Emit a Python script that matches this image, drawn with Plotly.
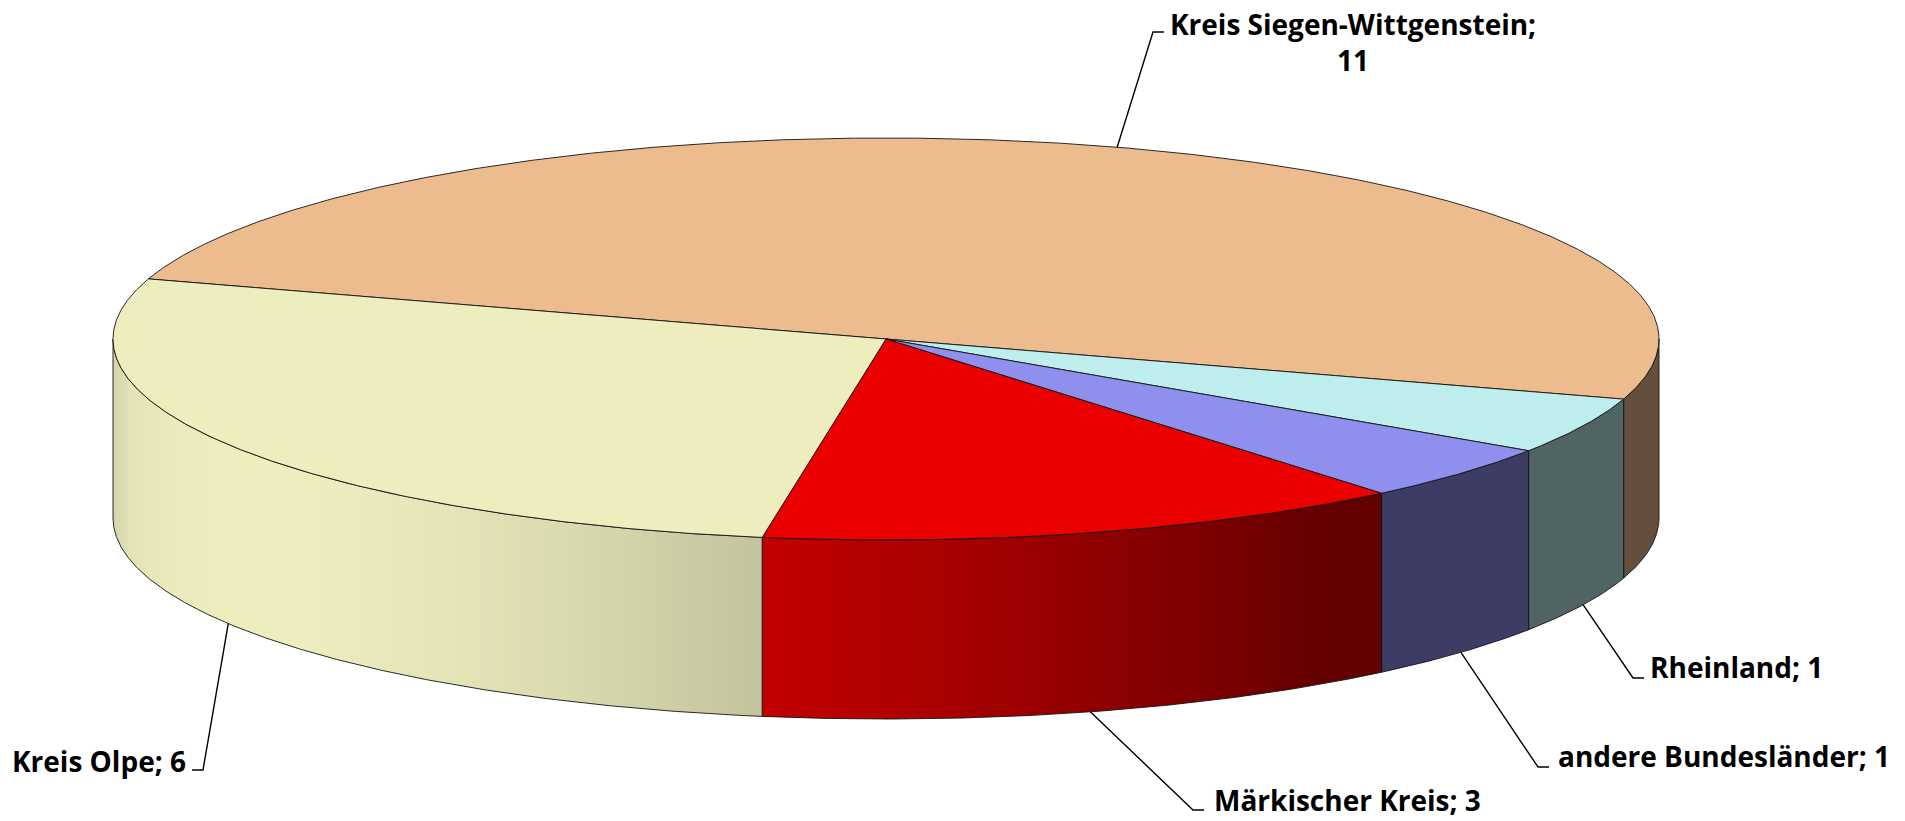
import numpy as np
import plotly.graph_objects as go

# ---------------- data ----------------
categories = ["Kreis Siegen-Wittgenstein", "Rheinland", "andere Bundesländer",
              "Märkischer Kreis", "Kreis Olpe"]
values = [11, 1, 1, 3, 6]
top_colors = [(236, 188, 143), (190, 237, 237), (143, 143, 238), (235, 0, 0), (237, 237, 190)]

# ---------------- layout / geometry (pixels) ----------------
W, H = 1905, 821
CX, CY = 886, 339          # centre of the top ellipse
RX, RY = 773, 201          # semi axes
DEPTH = 179                # thickness of the pie
START_DEG = 162.6          # first slice starts here, slices run clockwise
LIGHT_DEG, AMB, DIFF = -145.0, 0.42, 0.58
EDGE = "rgba(20,20,20,0.9)"

# label placement: (leader corner x, leader corner y, text edge x, text centre y, side)
label_layout = [
    (1153, 32, 1168, 42, "right"),
    (1633, 678, 1648, 667, "right"),
    (1538, 767, 1556, 756, "right"),
    (1193, 810, 1212, 800, "right"),
    (203, 770, 188, 761, "left"),
]
label_wrap = [True, False, False, False, False]
FONT = dict(family="Open Sans", size=28, color="black", weight="bold")


def ell(t_deg, dy=0.0):
    t = np.radians(t_deg)
    return CX + RX * np.cos(t), CY - RY * np.sin(t) + dy


def shade(t_deg):
    return AMB + DIFF * max(0.0, np.cos(np.radians(t_deg - LIGHT_DEG)))


def rgb(c, f=1.0):
    return "rgb(%d,%d,%d)" % tuple(int(round(min(255, v * f))) for v in c)


total = float(sum(values))
angles = []
cur = START_DEG
for v in values:
    nxt = cur - 360.0 * v / total
    angles.append((cur, nxt))
    cur = nxt

fig = go.Figure()

# ---------- side faces (front half only) ----------
for (t0, t1), col in zip(angles, top_colors):
    hi, lo = t0, t1
    for k in (-1, 0, 1):
        a, b = -180 + 360 * k, 360 * k
        s_hi, s_lo = min(hi, b), max(lo, a)
        if s_hi <= s_lo:
            continue
        n = max(8, int((s_hi - s_lo) * 4))
        ts = np.linspace(s_hi, s_lo, n)
        xt, yt = ell(ts)
        xb, yb = ell(ts[::-1], DEPTH)
        xs = np.concatenate([xt, xb, xt[:1]])
        ys = np.concatenate([yt, yb, yt[:1]])
        xmin, xmax = float(xs.min()), float(xs.max())
        stops = []
        m = 40
        for i in range(m + 1):
            xx = xmin + (xmax - xmin) * i / m
            cosv = np.clip((xx - CX) / RX, -1, 1)
            tt = -np.degrees(np.arccos(cosv)) + 360 * k
            stops.append([i / m, rgb(col, shade(tt))])
        fig.add_trace(go.Scatter(
            x=xs, y=ys, mode="lines", fill="toself",
            fillgradient=dict(type="horizontal", colorscale=stops, start=xmin, stop=xmax),
            line=dict(color=EDGE, width=1), hoverinfo="skip", showlegend=False))

# ---------- top faces ----------
for (t0, t1), col in zip(angles, top_colors):
    n = max(8, int(abs(t0 - t1) * 4))
    ts = np.linspace(t0, t1, n)
    xa, ya = ell(ts)
    xs = np.concatenate([[CX], xa, [CX]])
    ys = np.concatenate([[CY], ya, [CY]])
    fig.add_trace(go.Scatter(
        x=xs, y=ys, mode="lines", fill="toself", fillcolor=rgb(col),
        line=dict(color=EDGE, width=1), hoverinfo="skip", showlegend=False))

# ---------- leader lines and labels ----------
annotations = []
for (t0, t1), cat, val, lay, wrap in zip(angles, categories, values, label_layout, label_wrap):
    mid = (t0 + t1) / 2.0
    if np.sin(np.radians(mid)) >= 0:
        sx, sy = ell(mid)
    else:
        sx, sy = ell(mid, DEPTH)
    cx_, cy_, tx, ty, side = lay
    hx = cx_ + 11 if side == "right" else cx_ - 11
    fig.add_trace(go.Scatter(
        x=[sx, cx_, hx], y=[sy, cy_, cy_], mode="lines",
        line=dict(color="black", width=1.4), hoverinfo="skip", showlegend=False))
    text = f"{cat};<br>{val}" if wrap else f"{cat}; {val}"
    annotations.append(dict(
        x=tx, y=ty, xref="x", yref="y", text=text, showarrow=False,
        xanchor="left" if side == "right" else "right", yanchor="middle",
        align="center", font=FONT))

fig.update_layout(
    width=W, height=H, margin=dict(l=0, r=0, t=0, b=0),
    paper_bgcolor="white", plot_bgcolor="white",
    xaxis=dict(range=[0, W], visible=False, fixedrange=True),
    yaxis=dict(range=[H, 0], visible=False, fixedrange=True),
    annotations=annotations, showlegend=False,
)

fig.write_html("out.html", config={"displayModeBar": False},
               post_script="document.body.style.margin='0';document.body.style.overflow='hidden';")
